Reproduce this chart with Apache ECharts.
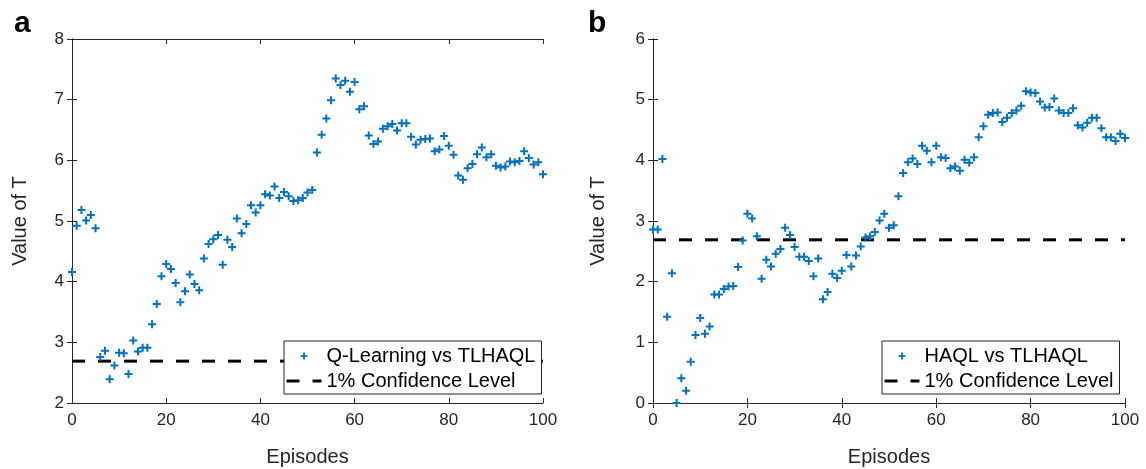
<!DOCTYPE html>
<html>
<head>
<meta charset="utf-8">
<script src="https://cdn.jsdelivr.net/npm/echarts@6/dist/echarts.min.js"></script>
<style>
  html, body { margin: 0; padding: 0; background: #fff; }
  #main { width: 1146px; height: 469px; }
</style>
</head>
<body>
<div id="main"></div>
<script>
// episodes 0..100
const episodes = Array.from({ length: 101 }, (_, i) => i)

// panel a: Q-Learning vs TLHAQL
const qlT = [
  4.16, 4.92, 5.18, 5.01, 5.10, 4.88, 2.76, 2.86, 2.39, 2.62,
  2.83, 2.82, 2.48, 3.03, 2.85, 2.91, 2.91, 3.30, 3.63, 4.09,
  4.29, 4.21, 3.98, 3.66, 3.84, 4.12, 3.96, 3.86, 4.38, 4.62,
  4.70, 4.77, 4.28, 4.69, 4.57, 5.04, 4.80, 4.95, 5.26, 5.14,
  5.26, 5.44, 5.42, 5.57, 5.38, 5.48, 5.41, 5.33, 5.34, 5.38,
  5.47, 5.51, 6.13, 6.42, 6.69, 6.99, 7.35, 7.24, 7.31, 7.13,
  7.29, 6.84, 6.89, 6.41, 6.27, 6.31, 6.52, 6.56, 6.60, 6.49,
  6.61, 6.61, 6.39, 6.26, 6.34, 6.35, 6.36, 6.15, 6.18, 6.40,
  6.24, 6.09, 5.75, 5.68, 5.87, 5.94, 6.10, 6.21, 6.05, 6.10,
  5.91, 5.88, 5.90, 5.98, 5.97, 5.99, 6.15, 6.04, 5.93, 5.97,
  5.77
]

// panel b: HAQL vs TLHAQL
const haqlT = [
  2.86, 2.86, 4.02, 1.42, 2.14, 0.00, 0.41, 0.20, 0.68, 1.12,
  1.40, 1.14, 1.26, 1.79, 1.79, 1.88, 1.92, 1.93, 2.24, 2.68,
  3.12, 3.04, 2.75, 2.05, 2.36, 2.25, 2.46, 2.54, 2.89, 2.77,
  2.57, 2.41, 2.41, 2.34, 2.09, 2.38, 1.71, 1.83, 2.13, 2.06,
  2.18, 2.44, 2.25, 2.43, 2.58, 2.73, 2.75, 2.82, 3.01, 3.12,
  2.89, 2.93, 3.41, 3.79, 3.97, 4.03, 3.94, 4.24, 4.16, 3.97,
  4.24, 4.05, 4.04, 3.87, 3.90, 3.83, 4.01, 3.96, 4.05, 4.38,
  4.56, 4.75, 4.78, 4.79, 4.63, 4.70, 4.78, 4.82, 4.90, 5.14,
  5.12, 5.11, 4.97, 4.87, 4.88, 5.02, 4.82, 4.78, 4.78, 4.86,
  4.58, 4.54, 4.62, 4.70, 4.70, 4.53, 4.38, 4.38, 4.32, 4.44,
  4.37
]

// 1% confidence level
const confLevel = 2.69
const confX = [0, 100]

const xRange = { min: 0, max: 100, interval: 20 }
const yRangeA = { min: 2, max: 8, interval: 1 }
const yRangeB = { min: 0, max: 6, interval: 1 }

const nameA = 'Q-Learning vs TLHAQL'
const nameB = 'HAQL vs TLHAQL'
const nameConf = '1% Confidence Level'

const FONT = '"Liberation Sans", Arial, Helvetica, sans-serif'
const AXIS_COLOR = '#262626'
const BLUE = '#0072BD'
const PLUS = 'path://M3,0H5V3H8V5H5V8H3V5H0V3H3Z'

let chart = echarts.init(document.getElementById('main'), null, { renderer: 'canvas' })

function makeX(grid, pos, range, showName) {
  return {
    type: 'value',
    gridIndex: grid,
    position: pos,
    min: range.min,
    max: range.max,
    interval: range.interval,
    name: showName ? 'Episodes' : '',
    nameLocation: 'middle',
    nameGap: 44,
    nameTextStyle: { fontFamily: FONT, fontSize: 20, color: AXIS_COLOR },
    axisLine: { show: true, lineStyle: { color: AXIS_COLOR, width: 1 } },
    axisTick: { show: true, inside: true, length: 5, lineStyle: { color: AXIS_COLOR } },
    axisLabel: {
      show: showName,
      fontFamily: FONT,
      fontSize: 17,
      color: AXIS_COLOR,
      margin: 9,
    },
    splitLine: { show: false },
  }
}

function makeY(grid, pos, range, showName, gap) {
  return {
    type: 'value',
    gridIndex: grid,
    position: pos,
    min: range.min,
    max: range.max,
    interval: range.interval,
    name: showName ? 'Value of T' : '',
    nameLocation: 'middle',
    nameRotate: 90,
    nameGap: gap,
    nameTextStyle: { fontFamily: FONT, fontSize: 20, color: AXIS_COLOR },
    axisLine: { show: true, lineStyle: { color: AXIS_COLOR, width: 1 } },
    axisTick: { show: true, inside: true, length: 5, lineStyle: { color: AXIS_COLOR } },
    axisLabel: {
      show: showName,
      fontFamily: FONT,
      fontSize: 17,
      color: AXIS_COLOR,
      margin: 8,
    },
    splitLine: { show: false },
  }
}

function makeLegend(left, names) {
  return {
    orient: 'vertical',
    left: left,
    top: 341,
    padding: [5, 6, 3, 1],
    itemWidth: 35,
    itemHeight: 7,
    itemGap: 5,
    borderColor: AXIS_COLOR,
    borderWidth: 1,
    backgroundColor: '#fff',
    textStyle: { fontFamily: FONT, fontSize: 20, color: '#000', lineHeight: 20 },
    lineStyle: { width: 3 },
    data: [
      { name: names[0], icon: PLUS },
      { name: names[1], itemStyle: { color: 'rgba(0,0,0,0)', borderWidth: 0, opacity: 0 } },
    ],
  }
}

function confLine(name, xi, yi) {
  return {
    name: name,
    type: 'line',
    xAxisIndex: xi,
    yAxisIndex: yi,
    symbol: 'none',
    showSymbol: false,
    silent: true,
    itemStyle: { color: 'rgba(0,0,0,0)' },
    lineStyle: { color: '#000', width: 3, type: [13, 13] },
    data: confX.map((x) => [x, confLevel]),
    z: 1,
  }
}

function scatter(name, values, xi, yi) {
  return {
    name: name,
    type: 'scatter',
    xAxisIndex: xi,
    yAxisIndex: yi,
    symbol: PLUS,
    symbolSize: 8,
    itemStyle: { color: BLUE, opacity: 1 },
    data: episodes.map((e, i) => [e, values[i]]),
    z: 3,
  }
}

let option = {
  animation: false,
  backgroundColor: '#fff',
  textStyle: { fontFamily: FONT },
  title: [
    { text: 'a', left: 9, top: 4, textStyle: { fontFamily: FONT, fontSize: 30, fontWeight: 'bold', color: '#000' } },
    { text: 'b', left: 583, top: 4, textStyle: { fontFamily: FONT, fontSize: 30, fontWeight: 'bold', color: '#000' } },
  ],
  grid: [
    { left: 72, right: 603, top: 39, bottom: 66, containLabel: false, outerBoundsMode: 'none' },
    { left: 653, right: 21, top: 39, bottom: 66, containLabel: false, outerBoundsMode: 'none' },
  ],
  xAxis: [
    makeX(0, 'bottom', xRange, true),
    makeX(0, 'top', xRange, false),
    makeX(1, 'bottom', xRange, true),
    makeX(1, 'top', xRange, false),
  ],
  yAxis: [
    makeY(0, 'left', yRangeA, true, 42),
    makeY(0, 'right', yRangeA, false, 0),
    makeY(1, 'left', yRangeB, true, 45),
    makeY(1, 'right', yRangeB, false, 0),
  ],
  legend: [
    makeLegend(284, [nameA, nameConf]),
    makeLegend(882, [nameB, nameConf]),
  ],
  series: [
    confLine(nameConf, 0, 0),
    scatter(nameA, qlT, 0, 0),
    confLine(nameConf, 2, 2),
    scatter(nameB, haqlT, 2, 2),
  ],
}

chart.setOption(option, true)
</script>
</body>
</html>
